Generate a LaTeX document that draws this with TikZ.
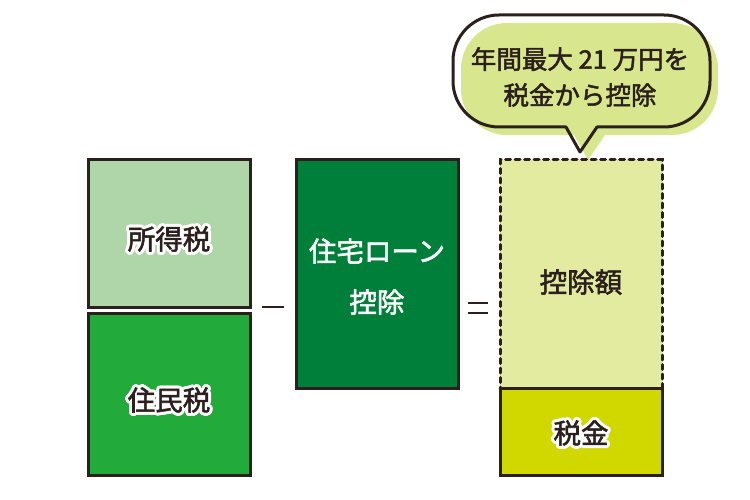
\documentclass[tikz,border=0pt]{standalone}
\usepackage{fontspec}
\setmainfont{Noto Sans CJK JP}[FakeBold=2]
\definecolor{ink}{HTML}{2B201D}
\definecolor{lightg}{HTML}{AED6A8}
\definecolor{midg}{HTML}{22AA3A}
\definecolor{darkg}{HTML}{007F3A}
\definecolor{paleg}{HTML}{E3EBA0}
\definecolor{yellg}{HTML}{D0D800}
\definecolor{bubg}{HTML}{D8E68E}
\tikzset{
  box/.style={draw=ink, line width=3pt, rectangle, inner sep=0pt},
  lbl/.style={font=\fontsize{27.5pt}{30pt}\selectfont, inner sep=0pt},
  sign/.style={draw=ink, line width=2.6pt},
}
\newcommand\halonode[3]{%
  \foreach \a in {0,22.5,...,337.5}{\node[lbl,text=white,shift={(\a:3pt)}] at (#2) {#3};}
  \node[lbl,text=ink] (#1) at (#2) {#3};}
\newcommand\bubblepath{(566,127) -- (580,152) -- (597,127) -- (664,127) .. controls (689.4,127) and (710,106.4) .. (710,81) -- (710,61) .. controls (710,35.6) and (689.4,15) .. (664,15) -- (499,15) .. controls (473.6,15) and (453,35.6) .. (453,61) -- (453,81) .. controls (453,106.4) and (473.6,127) .. (499,127) -- cycle}
\begin{document}
\begin{tikzpicture}[x=1pt,y=-1pt]
\useasboundingbox (0,0) rectangle (750,500);
% bubble
\fill[bubg, shift={(8,8)}] \bubblepath;
\draw[ink, line width=3pt, line join=round] \bubblepath;
\node[font=\fontsize{25.5pt}{36pt}\selectfont, text=ink, align=center, inner sep=0pt] (bubtext) at (580,77) {年間最大 21 万円を\\税金から控除};
% left boxes
\node[box, fill=lightg, minimum width=162pt, minimum height=147pt] (shotoku) at (169.5,233.5) {};
\node[box, fill=midg, minimum width=162pt, minimum height=162pt] (jumin) at (169.5,394) {};
\halonode{shotokuT}{169,239}{所得税}
\halonode{juminT}{169,400}{住民税}
% minus
\coordinate (m1) at (262,307);
\coordinate (m2) at (284,307);
\draw[sign] (m1) -- (m2);
% loan box
\node[box, fill=darkg, minimum width=162pt, minimum height=228pt] (loan) at (377,274) {};
\node[lbl, text=white] (loanT1) at (377,251) {住宅ローン};
\node[lbl, text=white] (loanT2) at (377,302) {控除};
% equals
\coordinate (e1) at (468,303);
\coordinate (e2) at (488,303);
\coordinate (e3) at (468,313);
\coordinate (e4) at (488,313);
\draw[sign] (e1) -- (e2);
\draw[sign] (e3) -- (e4);
% deduction dashed box
\node[rectangle, fill=paleg, draw=ink, line width=3pt, dash pattern=on 5pt off 4.5pt, line cap=round, minimum width=162pt, minimum height=228pt] (kojo) at (581,274) {};
\node[box, fill=yellg, minimum width=162pt, minimum height=87pt] (zeikin) at (581,431.5) {};
\node[lbl, text=ink] (kojoT) at (581,282) {控除額};
\halonode{zeikinT}{581,433}{税金}
\end{tikzpicture}
\end{document}
